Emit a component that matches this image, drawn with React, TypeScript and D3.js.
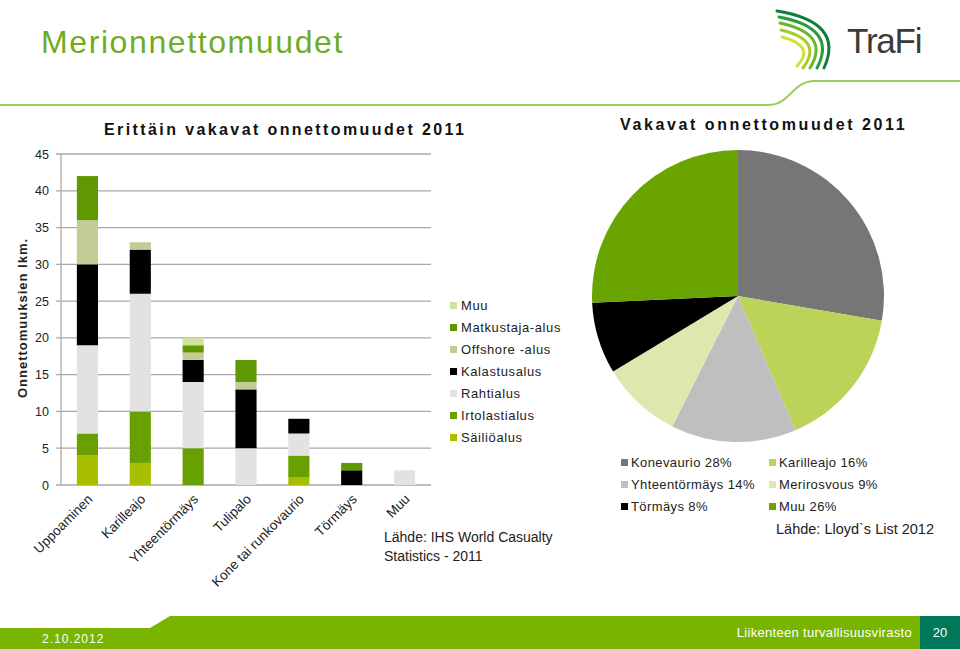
import React from "react";
import * as d3 from "d3";

const categories = ["Uppoaminen", "Karilleajo", "Yhteentörmäys", "Tulipalo", "Kone tai runkovaurio", "Törmäys", "Muu"];
const seriesNames = ["Säiliöalus", "Irtolastialus", "Rahtialus", "Kalastusalus", "Offshore -alus", "Matkustaja-alus", "Muu"];
const sailioalus = [4, 3, 0, 0, 1, 0, 0];
const irtolastialus = [3, 7, 5, 0, 3, 0, 0];
const rahtialus = [12, 16, 9, 5, 3, 0, 2];
const kalastusalus = [11, 6, 3, 8, 2, 2, 0];
const offshoreAlus = [6, 1, 1, 1, 0, 0, 0];
const matkustajaAlus = [6, 0, 1, 3, 0, 1, 0];
const muuAlus = [0, 0, 1, 0, 0, 0, 0];
const seriesColors = ["#a8bf00", "#67a000", "#e2e2e2", "#000000", "#c3cc94", "#5f9800", "#d4e39b"];
const yTicks = [0, 5, 10, 15, 20, 25, 30, 35, 40, 45];

const pieLabels = ["Konevaurio", "Karilleajo", "Yhteentörmäys", "Merirosvous", "Törmäys", "Muu"];
const pieValues = [28, 16, 14, 9, 8, 26];
const pieColors = ["#767676", "#bcd35a", "#bfbfbf", "#dce8ad", "#000000", "#6aa400"];
const pieLegendOrder = [0, 1, 2, 3, 4, 5];

const FONT = "'Liberation Sans', Arial, sans-serif";

export default function App() {
  const seriesValues = [sailioalus, irtolastialus, rahtialus, kalastusalus, offshoreAlus, matkustajaAlus, muuAlus];
  const rows = categories.map((c, i) => {
    const r: any = { cat: c };
    seriesNames.forEach((s, j) => (r[s] = seriesValues[j][i]));
    return r;
  });
  const stacked = d3.stack<any>().keys(seriesNames)(rows);

  const x = d3.scaleBand().domain(categories).range([61, 431]).paddingInner(0.6).paddingOuter(0.3);
  const y = d3.scaleLinear().domain([0, 45]).range([485, 154]);

  const pie = d3.pie<number>().sort(null).value((d) => d)(pieValues);
  const arc = d3.arc<any>().innerRadius(0).outerRadius(146);
  const pcx = 738, pcy = 296;

  const swoosh = [
    { d: "M777,11 Q845,22 824,68", c: "#0e7d3e" },
    { d: "M779,17 Q838,28 817,68", c: "#2a9a3a" },
    { d: "M780,23 Q831,34 810,68", c: "#6cb52d" },
    { d: "M781,30 Q824,40 803,68", c: "#a8cc2a" },
    { d: "M782,37 Q816,46 797,66", c: "#d4df3a" },
  ];

  return (
    <svg width={960} height={649} style={{ position: "absolute", left: 0, top: 0, background: "#fff" }} fontFamily={FONT}>
      <rect x={0} y={0} width={960} height={649} fill="#fff" />
      {/* Header */}
      <text x={41} y={53} fontSize={32} fill="#6fac24" letterSpacing={1.6}>Merionnettomuudet</text>
      <path d="M0,105 L768,105 C790,105 792,81 815,81 L960,81" fill="none" stroke="#9ccc5a" strokeWidth={2} />
      {swoosh.map((s, i) => (
        <path key={i} d={s.d} fill="none" stroke={s.c} strokeWidth={3} strokeLinecap="round" />
      ))}
      <text x={847} y={53} fontSize={35} fill="#3a3a3a" letterSpacing={-1.2}>TraFi</text>

      <text x={104} y={135} fontSize={16} fontWeight="bold" letterSpacing={2.4} fill="#111">Erittäin vakavat onnettomuudet 2011</text>
      <text x={620} y={130} fontSize={16} fontWeight="bold" letterSpacing={2.6} fill="#111">Vakavat onnettomuudet 2011</text>

      {/* Bar chart gridlines */}
      {yTicks.map((t) => (
        <g key={t}>
          <line x1={56} x2={431} y1={y(t)} y2={y(t)} stroke="#a9a9a9" strokeWidth={1.3} />
          <text x={49} y={y(t) + 4.5} fontSize={12.5} textAnchor="end" fill="#222">{t}</text>
        </g>
      ))}
      <line x1={61} x2={61} y1={y(45)} y2={y(0)} stroke="#a9a9a9" strokeWidth={1.3} />

      {stacked.map((layer, j) => (
        <g key={j} fill={seriesColors[j]}>
          {layer.map((d, i) =>
            d[1] - d[0] > 0 ? (
              <rect key={i} x={x(categories[i])} width={x.bandwidth()} y={y(d[1])} height={y(d[0]) - y(d[1])} />
            ) : null
          )}
        </g>
      ))}

      {categories.map((c) => {
        const cx = (x(c) as number) + x.bandwidth() / 2 + 6;
        return (
          <text key={c} transform={`translate(${cx},${500}) rotate(-45)`} textAnchor="end" fontSize={13.5} fill="#222">{c}</text>
        );
      })}

      <text transform="translate(27,318) rotate(-90)" textAnchor="middle" fontSize={13} fontWeight="bold" letterSpacing={1} fill="#222">Onnettomuuksien lkm.</text>

      {/* Bar legend */}
      {seriesNames.slice().reverse().map((s, k) => {
        const j = seriesNames.length - 1 - k;
        const yy = 310 + k * 22;
        return (
          <g key={s}>
            <rect x={450} y={yy - 8} width={7} height={7} fill={seriesColors[j]} />
            <text x={461} y={yy} fontSize={13} letterSpacing={0.6} fill="#222">{s}</text>
          </g>
        );
      })}
      <text x={384} y={542} fontSize={14} fill="#222">Lähde: IHS World Casualty</text>
      <text x={384} y={561} fontSize={14} fill="#222">Statistics - 2011</text>

      {/* Pie */}
      <g transform={`translate(${pcx},${pcy})`}>
        {pie.map((p, i) => (
          <path key={i} d={arc(p) as string} fill={pieColors[i]} />
        ))}
      </g>
      {pieLegendOrder.map((i) => {
        const col = i % 2;
        const row = Math.floor(i / 2);
        const lx = col === 0 ? 621 : 769;
        const ly = 467 + row * 22;
        return (
          <g key={i}>
            <rect x={lx} y={ly - 8} width={7} height={7} fill={pieColors[i]} />
            <text x={lx + 10} y={ly} fontSize={13} letterSpacing={0.4} fill="#222">{`${pieLabels[i]} ${pieValues[i]}%`}</text>
          </g>
        );
      })}
      <text x={776} y={534} fontSize={14.5} fill="#222">Lähde: Lloyd`s List 2012</text>

      {/* Footer */}
      <path d="M0,628 L150,628 L170,616 L960,616 L960,649 L0,649 Z" fill="#78b400" />
      <rect x={920} y={616} width={40} height={33} fill="#00785a" />
      <text x={42} y={643} fontSize={12} letterSpacing={1} fill="#fff">2.10.2012</text>
      <text x={912} y={637} fontSize={13} letterSpacing={0.3} textAnchor="end" fill="#fff">Liikenteen turvallisuusvirasto</text>
      <text x={940} y={637} fontSize={13} textAnchor="middle" fill="#fff">20</text>
    </svg>
  );
}
